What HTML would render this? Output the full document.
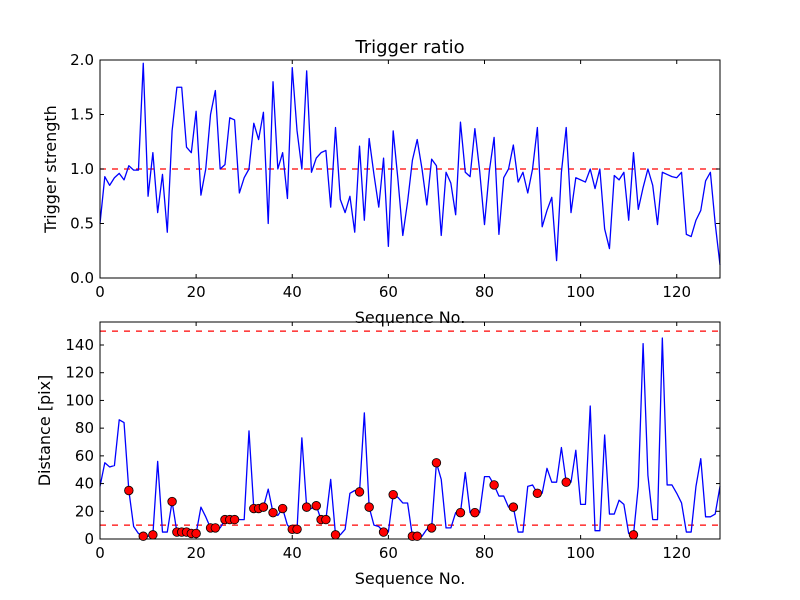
<!DOCTYPE html>
<html><head><meta charset="utf-8"><style>
html,body{margin:0;padding:0;background:#fff;}
svg{display:block;font-family:"DejaVu Sans","Liberation Sans",sans-serif;}
</style></head><body>
<svg id="chart" width="800" height="600" viewBox="0 0 800 600" xmlns="http://www.w3.org/2000/svg">
<rect width="800" height="600" fill="#fff"/>
<g id="top"></g>
<g id="bot"></g>
</svg>
<script>
const ratioValues = [0.5,0.93,0.85,0.92,0.96,0.9,1.03,0.99,0.99,1.97,0.75,1.15,0.6,0.95,0.42,1.35,1.75,1.75,1.2,1.15,1.53,0.76,1.0,1.5,1.72,1.0,1.04,1.47,1.45,0.78,0.92,1.0,1.42,1.27,1.52,0.5,1.8,1.0,1.15,0.73,1.93,1.35,1.0,1.9,0.97,1.1,1.15,1.17,0.65,1.38,0.72,0.6,0.75,0.42,1.21,0.53,1.28,0.95,0.65,1.1,0.29,1.35,0.9,0.39,0.7,1.08,1.27,1.0,0.67,1.09,1.03,0.39,0.97,0.87,0.58,1.43,0.97,0.93,1.37,0.98,0.49,0.98,1.29,0.4,0.92,1.0,1.22,0.88,0.97,0.78,1.0,1.38,0.47,0.62,0.74,0.16,0.97,1.38,0.6,0.92,0.9,0.88,1.0,0.82,1.0,0.45,0.27,0.94,0.9,0.97,0.53,1.15,0.63,0.83,1.0,0.85,0.49,0.97,0.95,0.93,0.92,0.97,0.4,0.38,0.53,0.62,0.89,0.97,0.5,0.12];
const distValues = [38,55,52,53,86,84,35,9,4,2,2,3,56,5,5,27,5,5,5,4,4,23,16,8,8,8,14,14,14,14,14,78,22,22,23,36,19,17,22,10,7,7,73,23,22,24,14,14,43,3,3,7,33,35,34,91,23,10,9,5,5,32,30,26,26,2,2,2,7,8,55,43,8,8,19,19,48,19,19,19,45,45,39,31,31,23,23,5,5,38,39,33,33,51,41,41,66,41,41,64,25,25,96,6,6,75,18,18,28,25,4,3,38,141,46,14,14,145,39,39,33,26,5,5,38,58,16,16,18,38];
const markedIdx = [6,9,11,15,16,17,18,19,20,23,24,26,27,28,32,33,34,36,38,40,41,43,45,46,47,49,54,56,59,61,65,66,69,70,75,78,82,86,91,97,111];
const xTicks = [0,20,40,60,80,100,120];
const ratioTicks = [0.0,0.5,1.0,1.5,2.0];
const distTicks = [0,20,40,60,80,100,120,140];
const ratioThresh = [1.0];
const distThresh = [10,150];

const NS='http://www.w3.org/2000/svg';
function mk(p,t,a){const e=document.createElementNS(NS,t);for(const k in a)e.setAttribute(k,a[k]);p.appendChild(e);return e;}
const L=100,R=720,XMAX=129;
const xs=v=>L+v/XMAX*(R-L);

function panel(g,top,bot,ymax,ticks,fmt,vals,thresh,ylabel,yLabX){
  const ys=v=>bot-v/ymax*(bot-top);
  thresh.forEach(t=>{const l=mk(g,'line',{x1:L,x2:R,y1:ys(t),y2:ys(t),stroke:'#ff0000','stroke-width':1.2,'stroke-dasharray':'6,6'});
    
    });
  const pts=vals.map((v,i)=>xs(i).toFixed(2)+','+ys(v).toFixed(2)).join(' ');
  const pl=mk(g,'polyline',{points:pts,fill:'none',stroke:'#0000ff','stroke-width':1.3,'stroke-linejoin':'round'});
  
  
  const fr=mk(g,'rect',{x:L,y:top,width:R-L,height:bot-top,fill:'none',stroke:'#000','stroke-width':1});
  
  
  xTicks.forEach(t=>{const x=xs(t);
    mk(g,'line',{x1:x,x2:x,y1:bot,y2:bot-4,stroke:'#000'});mk(g,'line',{x1:x,x2:x,y1:top,y2:top+4,stroke:'#000'});
    const tx=mk(g,'text',{x:x,y:bot+19,'text-anchor':'middle','font-size':15});tx.textContent=t;
    
    });
  ticks.forEach(t=>{const y=ys(t);
    mk(g,'line',{x1:L,x2:L+4,y1:y,y2:y,stroke:'#000'});mk(g,'line',{x1:R,x2:R-4,y1:y,y2:y,stroke:'#000'});
    const tx=mk(g,'text',{x:L-6,y:y+5,'text-anchor':'end','font-size':15});tx.textContent=fmt(t);
    
    });
  const xl=mk(g,'text',{x:410,y:bot+45,'text-anchor':'middle','font-size':16});xl.textContent='Sequence No.';
  
  
  const cy=(top+bot)/2;
  const yl=mk(g,'text',{x:yLabX,y:cy,'text-anchor':'middle','font-size':16,transform:`rotate(-90 ${yLabX} ${cy})`});yl.textContent=ylabel;
  
  
  return ys;
}
const gt=document.getElementById('top'),gb=document.getElementById('bot');
panel(gt,60,278,2.0,ratioTicks,t=>t.toFixed(1),ratioValues,ratioThresh,'Trigger strength',56);
const title=mk(gt,'text',{x:410,y:53,'text-anchor':'middle','font-size':18});title.textContent='Trigger ratio';


const ysB=panel(gb,322,539,156.6,distTicks,t=>String(t),distValues,distThresh,'Distance [pix]',50);
markedIdx.forEach(i=>{const c=mk(gb,'circle',{cx:xs(i),cy:ysB(distValues[i]),r:4.3,fill:'#ff0000',stroke:'#000','stroke-width':0.8});
  
  });
</script>
</body></html>
